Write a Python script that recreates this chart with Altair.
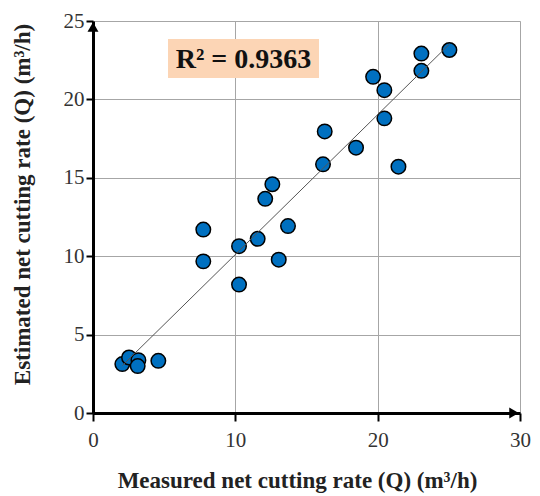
import altair as alt
import pandas as pd

measured = [2.06, 2.53, 3.19, 3.14, 4.59, 7.75, 7.75, 10.26, 10.26, 11.57, 12.1, 12.6,
            13.05, 13.7, 16.16, 16.28, 18.48, 19.68, 20.47, 20.47, 21.46, 23.07, 23.07, 25.04]
estimated = [3.12, 3.54, 3.37, 2.99, 3.33, 11.7, 9.67, 10.64, 8.19, 11.11, 13.66, 14.59,
             9.78, 11.92, 15.86, 17.96, 16.92, 21.44, 20.59, 18.79, 15.71, 22.92, 21.82, 23.15]
x_ticks = [0, 10, 20, 30]
y_ticks = [0, 5, 10, 15, 20, 25]
r2_label = "R² = 0.9363"

df = pd.DataFrame({"measured": measured, "estimated": estimated})

FONT = "Liberation Serif"
W, H = 427, 392

xs = alt.Scale(domain=[0, 30], nice=False)
ys = alt.Scale(domain=[0, 25], nice=False)

x_axis = alt.Axis(values=x_ticks, title="Measured net cutting rate (Q) (m³/h)",
                  tickSize=8, labelPadding=8, labelFont=FONT, labelFontSize=21,
                  titleBaseline="alphabetic", titleY=74, titleX=204)
y_axis = alt.Axis(values=y_ticks, title="Estimated net cutting rate (Q) (m³/h)",
                  tickSize=7, labelPadding=2, labelFont=FONT, labelFontSize=21,
                  titleX=-59, titleY=183)

base = alt.Chart(df)

points = base.mark_point(filled=True, size=210, fill="#0070C0", stroke="black",
                         strokeWidth=1.5, opacity=1).encode(
    x=alt.X("measured:Q", scale=xs, axis=x_axis),
    y=alt.Y("estimated:Q", scale=ys, axis=y_axis),
)

trend = base.transform_regression("measured", "estimated").mark_line(
    color="#555555", strokeWidth=1).encode(
    x=alt.X("measured:Q", scale=xs, axis=x_axis),
    y=alt.Y("estimated:Q", scale=ys, axis=y_axis),
)

label_df = pd.DataFrame({"t": [r2_label]})
box = alt.Chart(label_df).mark_rect(fill="#FCD5B5").encode(
    x=alt.value(75), x2=alt.value(226), y=alt.value(18), y2=alt.value(57))
txt = alt.Chart(label_df).mark_text(font=FONT, fontSize=28, fontWeight="bold",
                                    color="#111", align="center", baseline="middle").encode(
    x=alt.value(150.5), y=alt.value(38.5), text="t:N")

arrow_y = alt.Chart(label_df).mark_point(shape="triangle-up", filled=True, fill="black",
                                         size=120, opacity=1, strokeWidth=0).encode(
    x=alt.value(0), y=alt.value(6))
arrow_x = alt.Chart(label_df).mark_point(shape="triangle-right", filled=True, fill="black",
                                         size=120, opacity=1, strokeWidth=0).encode(
    x=alt.value(W - 6), y=alt.value(H))

chart = alt.layer(points, trend, box, txt, arrow_y, arrow_x).properties(
    width=W, height=H,
    autosize=alt.AutoSizeParams(type="none"),
    padding={"left": 93, "top": 21, "right": 20, "bottom": 83},
).configure_view(stroke=None).configure(background="white", font=FONT).configure_axis(
    grid=True, gridColor="#A6A6A6", gridWidth=1, labelFlush=False,
    domainColor="black", domainWidth=3, tickColor="black", tickWidth=2,
    labelFont=FONT, labelFontSize=21, labelColor="#333",
    titleFont=FONT, titleFontSize=23, titleFontWeight="bold", titleColor="#222",
)

chart.save("out.html", embed_options={"renderer": "svg", "actions": False})
